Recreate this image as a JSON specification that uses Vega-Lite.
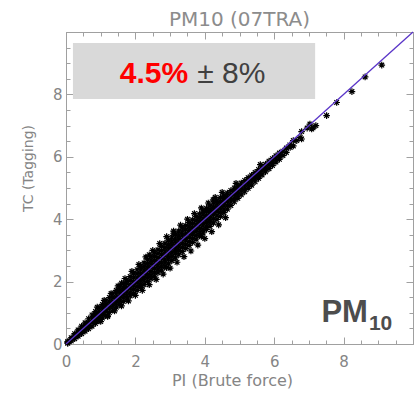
{
  "$schema": "https://vega.github.io/schema/vega-lite/v6.json",
  "width": 347,
  "height": 312,
  "autosize": "none",
  "padding": {"left": 66, "top": 32, "right": 4, "bottom": 54},
  "background": "white",
  "title": {"text": "PM10 (07TRA)", "font": "DejaVu Sans", "fontSize": 20, "fontWeight": "normal", "color": "#8c8c8c", "anchor": "middle", "baseline": "alphabetic", "offset": 9, "frame": "group", "dy": 30},
  "datasets": {
    "pts": [
      {"pi":0.05,"tc":0.02},{"pi":0.05,"tc":0.05},{"pi":0.05,"tc":0.08},
      {"pi":0.15,"tc":0.10},{"pi":0.15,"tc":0.15},{"pi":0.15,"tc":0.20},
      {"pi":0.25,"tc":0.17},{"pi":0.25,"tc":0.24},{"pi":0.25,"tc":0.33},
      {"pi":0.35,"tc":0.25},{"pi":0.35,"tc":0.32},{"pi":0.35,"tc":0.38},{"pi":0.35,"tc":0.45},
      {"pi":0.45,"tc":0.33},{"pi":0.45,"tc":0.41},{"pi":0.45,"tc":0.49},{"pi":0.45,"tc":0.57},
      {"pi":0.55,"tc":0.41},{"pi":0.55,"tc":0.50},{"pi":0.55,"tc":0.59},{"pi":0.55,"tc":0.68},
      {"pi":0.65,"tc":0.49},{"pi":0.65,"tc":0.59},{"pi":0.65,"tc":0.70},{"pi":0.65,"tc":0.81},
      {"pi":0.75,"tc":0.57},{"pi":0.75,"tc":0.69},{"pi":0.75,"tc":0.81},{"pi":0.75,"tc":0.93},
      {"pi":0.85,"tc":0.66},{"pi":0.85,"tc":0.76},{"pi":0.85,"tc":0.85},{"pi":0.85,"tc":0.95},{"pi":0.85,"tc":1.04},
      {"pi":0.95,"tc":0.74},{"pi":0.95,"tc":0.85},{"pi":0.95,"tc":0.95},{"pi":0.95,"tc":1.05},{"pi":0.95,"tc":1.16},
      {"pi":1.05,"tc":0.83},{"pi":1.05,"tc":0.94},{"pi":1.05,"tc":1.05},{"pi":1.05,"tc":1.16},{"pi":1.05,"tc":1.27},
      {"pi":1.15,"tc":0.92},{"pi":1.15,"tc":1.04},{"pi":1.15,"tc":1.15},{"pi":1.15,"tc":1.27},{"pi":1.15,"tc":1.38},
      {"pi":1.25,"tc":1.01},{"pi":1.25,"tc":1.13},{"pi":1.25,"tc":1.25},{"pi":1.25,"tc":1.37},{"pi":1.25,"tc":1.49},
      {"pi":1.35,"tc":1.09},{"pi":1.35,"tc":1.22},{"pi":1.35,"tc":1.35},{"pi":1.35,"tc":1.48},{"pi":1.35,"tc":1.61},
      {"pi":1.45,"tc":1.18},{"pi":1.45,"tc":1.29},{"pi":1.45,"tc":1.40},{"pi":1.45,"tc":1.50},{"pi":1.45,"tc":1.61},{"pi":1.45,"tc":1.72},
      {"pi":1.55,"tc":1.27},{"pi":1.55,"tc":1.38},{"pi":1.55,"tc":1.49},{"pi":1.55,"tc":1.61},{"pi":1.55,"tc":1.72},{"pi":1.55,"tc":1.83},
      {"pi":1.65,"tc":1.36},{"pi":1.65,"tc":1.48},{"pi":1.65,"tc":1.59},{"pi":1.65,"tc":1.71},{"pi":1.65,"tc":1.82},{"pi":1.65,"tc":1.94},
      {"pi":1.75,"tc":1.45},{"pi":1.75,"tc":1.57},{"pi":1.75,"tc":1.69},{"pi":1.75,"tc":1.81},{"pi":1.75,"tc":1.93},{"pi":1.75,"tc":2.05},
      {"pi":1.85,"tc":1.54},{"pi":1.85,"tc":1.66},{"pi":1.85,"tc":1.79},{"pi":1.85,"tc":1.91},{"pi":1.85,"tc":2.04},{"pi":1.85,"tc":2.16},
      {"pi":1.95,"tc":1.63},{"pi":1.95,"tc":1.76},{"pi":1.95,"tc":1.89},{"pi":1.95,"tc":2.01},{"pi":1.95,"tc":2.14},{"pi":1.95,"tc":2.27},
      {"pi":2.05,"tc":1.72},{"pi":2.05,"tc":1.85},{"pi":2.05,"tc":1.98},{"pi":2.05,"tc":2.12},{"pi":2.05,"tc":2.25},{"pi":2.05,"tc":2.38},
      {"pi":2.15,"tc":1.81},{"pi":2.15,"tc":1.92},{"pi":2.15,"tc":2.04},{"pi":2.15,"tc":2.15},{"pi":2.15,"tc":2.26},{"pi":2.15,"tc":2.38},{"pi":2.15,"tc":2.49},
      {"pi":2.25,"tc":1.90},{"pi":2.25,"tc":2.02},{"pi":2.25,"tc":2.13},{"pi":2.25,"tc":2.25},{"pi":2.25,"tc":2.37},{"pi":2.25,"tc":2.48},{"pi":2.25,"tc":2.60},
      {"pi":2.35,"tc":2.00},{"pi":2.35,"tc":2.12},{"pi":2.35,"tc":2.23},{"pi":2.35,"tc":2.35},{"pi":2.35,"tc":2.47},{"pi":2.35,"tc":2.58},{"pi":2.35,"tc":2.70},
      {"pi":2.45,"tc":2.09},{"pi":2.45,"tc":2.21},{"pi":2.45,"tc":2.33},{"pi":2.45,"tc":2.45},{"pi":2.45,"tc":2.57},{"pi":2.45,"tc":2.69},{"pi":2.45,"tc":2.81},
      {"pi":2.55,"tc":2.18},{"pi":2.55,"tc":2.30},{"pi":2.55,"tc":2.43},{"pi":2.55,"tc":2.55},{"pi":2.55,"tc":2.67},{"pi":2.55,"tc":2.80},{"pi":2.55,"tc":2.92},
      {"pi":2.65,"tc":2.28},{"pi":2.65,"tc":2.40},{"pi":2.65,"tc":2.53},{"pi":2.65,"tc":2.65},{"pi":2.65,"tc":2.77},{"pi":2.65,"tc":2.90},{"pi":2.65,"tc":3.02},
      {"pi":2.75,"tc":2.37},{"pi":2.75,"tc":2.50},{"pi":2.75,"tc":2.62},{"pi":2.75,"tc":2.75},{"pi":2.75,"tc":2.88},{"pi":2.75,"tc":3.00},{"pi":2.75,"tc":3.13},
      {"pi":2.85,"tc":2.47},{"pi":2.85,"tc":2.60},{"pi":2.85,"tc":2.72},{"pi":2.85,"tc":2.85},{"pi":2.85,"tc":2.98},{"pi":2.85,"tc":3.10},{"pi":2.85,"tc":3.23},
      {"pi":2.95,"tc":2.57},{"pi":2.95,"tc":2.70},{"pi":2.95,"tc":2.82},{"pi":2.95,"tc":2.95},{"pi":2.95,"tc":3.08},{"pi":2.95,"tc":3.20},{"pi":2.95,"tc":3.33},
      {"pi":3.05,"tc":2.67},{"pi":3.05,"tc":2.80},{"pi":3.05,"tc":2.92},{"pi":3.05,"tc":3.05},{"pi":3.05,"tc":3.18},{"pi":3.05,"tc":3.30},{"pi":3.05,"tc":3.43},
      {"pi":3.15,"tc":2.76},{"pi":3.15,"tc":2.89},{"pi":3.15,"tc":3.01},{"pi":3.15,"tc":3.14},{"pi":3.15,"tc":3.27},{"pi":3.15,"tc":3.39},{"pi":3.15,"tc":3.52},
      {"pi":3.25,"tc":2.86},{"pi":3.25,"tc":2.99},{"pi":3.25,"tc":3.11},{"pi":3.25,"tc":3.24},{"pi":3.25,"tc":3.37},{"pi":3.25,"tc":3.49},{"pi":3.25,"tc":3.62},
      {"pi":3.35,"tc":2.96},{"pi":3.35,"tc":3.09},{"pi":3.35,"tc":3.21},{"pi":3.35,"tc":3.34},{"pi":3.35,"tc":3.47},{"pi":3.35,"tc":3.59},{"pi":3.35,"tc":3.72},
      {"pi":3.45,"tc":3.06},{"pi":3.45,"tc":3.18},{"pi":3.45,"tc":3.31},{"pi":3.45,"tc":3.43},{"pi":3.45,"tc":3.55},{"pi":3.45,"tc":3.68},{"pi":3.45,"tc":3.80},
      {"pi":3.55,"tc":3.16},{"pi":3.55,"tc":3.28},{"pi":3.55,"tc":3.41},{"pi":3.55,"tc":3.53},{"pi":3.55,"tc":3.65},{"pi":3.55,"tc":3.78},{"pi":3.55,"tc":3.90},
      {"pi":3.65,"tc":3.26},{"pi":3.65,"tc":3.38},{"pi":3.65,"tc":3.50},{"pi":3.65,"tc":3.62},{"pi":3.65,"tc":3.74},{"pi":3.65,"tc":3.86},{"pi":3.65,"tc":3.98},
      {"pi":3.75,"tc":3.36},{"pi":3.75,"tc":3.48},{"pi":3.75,"tc":3.60},{"pi":3.75,"tc":3.72},{"pi":3.75,"tc":3.84},{"pi":3.75,"tc":3.96},{"pi":3.75,"tc":4.08},
      {"pi":3.85,"tc":3.47},{"pi":3.85,"tc":3.59},{"pi":3.85,"tc":3.70},{"pi":3.85,"tc":3.82},{"pi":3.85,"tc":3.94},{"pi":3.85,"tc":4.05},{"pi":3.85,"tc":4.17},
      {"pi":3.95,"tc":3.56},{"pi":3.95,"tc":3.68},{"pi":3.95,"tc":3.79},{"pi":3.95,"tc":3.91},{"pi":3.95,"tc":4.03},{"pi":3.95,"tc":4.14},{"pi":3.95,"tc":4.26},
      {"pi":4.05,"tc":3.67},{"pi":4.05,"tc":3.78},{"pi":4.05,"tc":3.90},{"pi":4.05,"tc":4.01},{"pi":4.05,"tc":4.12},{"pi":4.05,"tc":4.24},{"pi":4.05,"tc":4.35},
      {"pi":4.15,"tc":3.77},{"pi":4.15,"tc":3.88},{"pi":4.15,"tc":3.99},{"pi":4.15,"tc":4.10},{"pi":4.15,"tc":4.21},{"pi":4.15,"tc":4.32},{"pi":4.15,"tc":4.43},
      {"pi":4.25,"tc":3.88},{"pi":4.25,"tc":4.01},{"pi":4.25,"tc":4.14},{"pi":4.25,"tc":4.26},{"pi":4.25,"tc":4.39},{"pi":4.25,"tc":4.52},
      {"pi":4.35,"tc":3.99},{"pi":4.35,"tc":4.11},{"pi":4.35,"tc":4.24},{"pi":4.35,"tc":4.36},{"pi":4.35,"tc":4.49},{"pi":4.35,"tc":4.61},
      {"pi":4.45,"tc":4.09},{"pi":4.45,"tc":4.21},{"pi":4.45,"tc":4.33},{"pi":4.45,"tc":4.45},{"pi":4.45,"tc":4.57},{"pi":4.45,"tc":4.69},
      {"pi":4.55,"tc":4.21},{"pi":4.55,"tc":4.32},{"pi":4.55,"tc":4.43},{"pi":4.55,"tc":4.55},{"pi":4.55,"tc":4.66},{"pi":4.55,"tc":4.77},
      {"pi":4.65,"tc":4.32},{"pi":4.65,"tc":4.45},{"pi":4.65,"tc":4.58},{"pi":4.65,"tc":4.71},{"pi":4.65,"tc":4.84},
      {"pi":4.75,"tc":4.44},{"pi":4.75,"tc":4.56},{"pi":4.75,"tc":4.68},{"pi":4.75,"tc":4.80},{"pi":4.75,"tc":4.92},
      {"pi":4.85,"tc":4.56},{"pi":4.85,"tc":4.67},{"pi":4.85,"tc":4.78},{"pi":4.85,"tc":4.89},{"pi":4.85,"tc":5.00},
      {"pi":4.95,"tc":4.67},{"pi":4.95,"tc":4.77},{"pi":4.95,"tc":4.87},{"pi":4.95,"tc":4.97},{"pi":4.95,"tc":5.07},
      {"pi":5.05,"tc":4.78},{"pi":5.05,"tc":4.91},{"pi":5.05,"tc":5.03},{"pi":5.05,"tc":5.16},
      {"pi":5.15,"tc":4.88},{"pi":5.15,"tc":5.00},{"pi":5.15,"tc":5.12},{"pi":5.15,"tc":5.24},
      {"pi":5.25,"tc":4.99},{"pi":5.25,"tc":5.10},{"pi":5.25,"tc":5.22},{"pi":5.25,"tc":5.33},
      {"pi":5.35,"tc":5.09},{"pi":5.35,"tc":5.20},{"pi":5.35,"tc":5.31},{"pi":5.35,"tc":5.41},
      {"pi":5.45,"tc":5.20},{"pi":5.45,"tc":5.30},{"pi":5.45,"tc":5.40},{"pi":5.45,"tc":5.50},
      {"pi":5.55,"tc":5.31},{"pi":5.55,"tc":5.40},{"pi":5.55,"tc":5.50},{"pi":5.55,"tc":5.59},
      {"pi":5.65,"tc":5.42},{"pi":5.65,"tc":5.55},{"pi":5.65,"tc":5.68},
      {"pi":5.75,"tc":5.52},{"pi":5.75,"tc":5.64},{"pi":5.75,"tc":5.76},
      {"pi":5.85,"tc":5.62},{"pi":5.85,"tc":5.74},{"pi":5.85,"tc":5.86},
      {"pi":5.95,"tc":5.72},{"pi":5.95,"tc":5.83},{"pi":5.95,"tc":5.94},
      {"pi":6.05,"tc":5.83},{"pi":6.05,"tc":5.93},{"pi":6.05,"tc":6.03},
      {"pi":6.15,"tc":5.92},{"pi":6.15,"tc":6.02},{"pi":6.15,"tc":6.12},
      {"pi":6.25,"tc":6.04},{"pi":6.25,"tc":6.18},
      {"pi":6.35,"tc":6.14},{"pi":6.35,"tc":6.28},
      {"pi":6.46,"tc":6.30},{"pi":6.45,"tc":6.38},
      {"pi":6.55,"tc":6.35},{"pi":6.55,"tc":6.52},
      {"pi":6.65,"tc":6.52},
      {"pi":6.75,"tc":6.62},{"pi":6.79,"tc":6.57},{"pi":6.79,"tc":6.81},
      {"pi":6.95,"tc":6.92},{"pi":7.03,"tc":7.05},{"pi":7.08,"tc":6.89},{"pi":7.12,"tc":6.93},{"pi":7.20,"tc":7.00},
      {"pi":7.51,"tc":7.32},{"pi":7.80,"tc":7.74},{"pi":8.24,"tc":8.09},{"pi":8.62,"tc":8.56},{"pi":9.10,"tc":8.94},
      {"pi":4.24,"tc":4.62},{"pi":3.10,"tc":3.55},{"pi":2.40,"tc":2.86},{"pi":1.60,"tc":1.95},{"pi":3.90,"tc":3.45},{"pi":2.90,"tc":2.45},{"pi":1.20,"tc":0.88},{"pi":4.90,"tc":5.15},{"pi":5.60,"tc":5.75},
      {"pi":0.90,"tc":1.18},{"pi":1.10,"tc":1.40},{"pi":1.30,"tc":1.62},{"pi":1.50,"tc":1.86},{"pi":1.70,"tc":2.10},{"pi":1.90,"tc":2.33},{"pi":2.10,"tc":2.55},{"pi":2.30,"tc":2.79},{"pi":2.50,"tc":3.00},{"pi":2.70,"tc":3.22},{"pi":2.90,"tc":3.44},{"pi":3.10,"tc":3.62},{"pi":3.30,"tc":3.81},{"pi":3.50,"tc":4.00},{"pi":3.70,"tc":4.18},{"pi":3.90,"tc":4.36},{"pi":4.10,"tc":4.52},{"pi":4.30,"tc":4.70},{"pi":4.50,"tc":4.86},
      {"pi":1.00,"tc":0.72},{"pi":1.20,"tc":0.90},{"pi":1.40,"tc":1.06},{"pi":1.60,"tc":1.22},{"pi":1.80,"tc":1.38},{"pi":2.00,"tc":1.56},{"pi":2.20,"tc":1.72},{"pi":2.40,"tc":1.90},{"pi":2.60,"tc":2.07},{"pi":2.80,"tc":2.24},{"pi":3.00,"tc":2.43},{"pi":3.20,"tc":2.62},{"pi":3.40,"tc":2.80},{"pi":3.60,"tc":2.98},{"pi":3.80,"tc":3.17},{"pi":4.00,"tc":3.38},{"pi":4.20,"tc":3.60},{"pi":4.40,"tc":3.82},{"pi":4.60,"tc":4.05}
    ],
    "one": [{"pi": 0, "tc": 0}, {"pi": 10, "tc": 10}],
    "box": [{"x1": 0.2, "x2": 7.18, "y1": 7.85, "y2": 9.65}]
  },
  "layer": [
    {
      "data": {"name": "box"},
      "mark": {"type": "rect", "color": "#d9d9d9"},
      "encoding": {
        "x": {"field": "x1", "type": "quantitative", "scale": {"domain": [0, 10], "nice": false, "zero": false},
          "axis": {"orient": "bottom", "title": "PI (Brute force)",
            "values": [0,0.5,1,1.5,2,2.5,3,3.5,4,4.5,5,5.5,6,6.5,7,7.5,8,8.5,9,9.5,10],
            "labelExpr": "datum.value % 2 === 0 && datum.value < 10 ? '' + datum.value : ''",
            "tickSize": {"condition": {"test": "datum.value % 2 === 0", "value": -7}, "value": -4},
            "labelPadding": 17, "labelFlush": false, "labelOverlap": false,
            "titleX": 166, "titleY": 41, "titleBaseline": "alphabetic", "titleFontSize": 16}},
        "x2": {"field": "x2"},
        "y": {"field": "y1", "type": "quantitative", "scale": {"domain": [0, 10], "nice": false, "zero": false},
          "axis": {"orient": "left", "title": "TC (Tagging)",
            "values": [0,0.5,1,1.5,2,2.5,3,3.5,4,4.5,5,5.5,6,6.5,7,7.5,8,8.5,9,9.5,10],
            "labelExpr": "datum.value % 2 === 0 && datum.value < 10 ? '' + datum.value : ''",
            "tickSize": {"condition": {"test": "datum.value % 2 === 0", "value": -7}, "value": -4},
            "labelPadding": 11, "labelFlush": false, "labelOverlap": false,
            "titleX": -34, "titleY": 136, "titleBaseline": "alphabetic", "titleFontSize": 14}},
        "y2": {"field": "y2"}
      }
    },
    {
      "data": {"name": "pts"},
      "mark": {"type": "point", "shape": "M-1,0L1,0M0,-1L0,1M-0.7,-0.7L0.7,0.7M-0.7,0.7L0.7,-0.7", "filled": false, "stroke": "black", "strokeWidth": 1.2, "size": 44, "opacity": 1},
      "encoding": {
        "x": {"field": "pi", "type": "quantitative", "axis": null},
        "y": {"field": "tc", "type": "quantitative", "axis": null}
      }
    },
    {
      "data": {"name": "one"},
      "mark": {"type": "line", "color": "#5a35c8", "strokeWidth": 1.3},
      "encoding": {
        "x": {"field": "pi", "type": "quantitative", "axis": null},
        "y": {"field": "tc", "type": "quantitative", "axis": null}
      }
    },
    {
      "data": {"values": [{"pi": 3.52, "tc": 8.36, "t": "4.5%"}]},
      "mark": {"type": "text", "align": "right", "baseline": "alphabetic", "font": "Liberation Sans", "fontSize": 30, "fontWeight": "bold", "color": "#ff0000"},
      "encoding": {
        "x": {"field": "pi", "type": "quantitative", "axis": null},
        "y": {"field": "tc", "type": "quantitative", "axis": null},
        "text": {"field": "t"}
      }
    },
    {
      "data": {"values": [{"pi": 3.78, "tc": 8.36, "t": "± 8%"}]},
      "mark": {"type": "text", "align": "left", "baseline": "alphabetic", "font": "Liberation Sans", "fontSize": 30, "fontWeight": "normal", "color": "#404040"},
      "encoding": {
        "x": {"field": "pi", "type": "quantitative", "axis": null},
        "y": {"field": "tc", "type": "quantitative", "axis": null},
        "text": {"field": "t"}
      }
    },
    {
      "data": {"values": [{"pi": 8.70, "tc": 0.70, "t": "PM"}]},
      "mark": {"type": "text", "align": "right", "baseline": "alphabetic", "font": "Liberation Sans", "fontSize": 31, "fontWeight": "bold", "color": "#4d4d4d"},
      "encoding": {
        "x": {"field": "pi", "type": "quantitative", "axis": null},
        "y": {"field": "tc", "type": "quantitative", "axis": null},
        "text": {"field": "t"}
      }
    },
    {
      "data": {"values": [{"pi": 8.73, "tc": 0.45, "t": "10"}]},
      "mark": {"type": "text", "align": "left", "baseline": "alphabetic", "font": "Liberation Sans", "fontSize": 21, "fontWeight": "bold", "color": "#4d4d4d"},
      "encoding": {
        "x": {"field": "pi", "type": "quantitative", "axis": null},
        "y": {"field": "tc", "type": "quantitative", "axis": null},
        "text": {"field": "t"}
      }
    },
    {
      "data": {"name": "one"},
      "mark": {"type": "point", "opacity": 0},
      "encoding": {
        "x": {"field": "pi", "type": "quantitative",
          "axis": {"orient": "top", "title": null, "labels": false, "minExtent": 0, "maxExtent": 0,
            "values": [0,0.5,1,1.5,2,2.5,3,3.5,4,4.5,5,5.5,6,6.5,7,7.5,8,8.5,9,9.5,10],
            "tickSize": {"condition": {"test": "datum.value % 2 === 0", "value": -7}, "value": -4}}},
        "y": {"field": "tc", "type": "quantitative",
          "axis": {"orient": "right", "title": null, "labels": false, "minExtent": 0, "maxExtent": 0,
            "values": [0,0.5,1,1.5,2,2.5,3,3.5,4,4.5,5,5.5,6,6.5,7,7.5,8,8.5,9,9.5,10],
            "tickSize": {"condition": {"test": "datum.value % 2 === 0", "value": -7}, "value": -4}}}
      }
    }
  ],
  "resolve": {"axis": {"x": "independent", "y": "independent"}},
  "config": {
    "view": {"stroke": "#a0a0a0", "strokeWidth": 1},
    "axis": {"domainColor": "#a0a0a0", "tickColor": "#a0a0a0", "tickWidth": 1, "labelColor": "#858585", "titleColor": "#858585", "labelFont": "DejaVu Sans", "titleFont": "DejaVu Sans", "labelFontSize": 15, "titleFontWeight": "normal", "grid": false}
  }
}
